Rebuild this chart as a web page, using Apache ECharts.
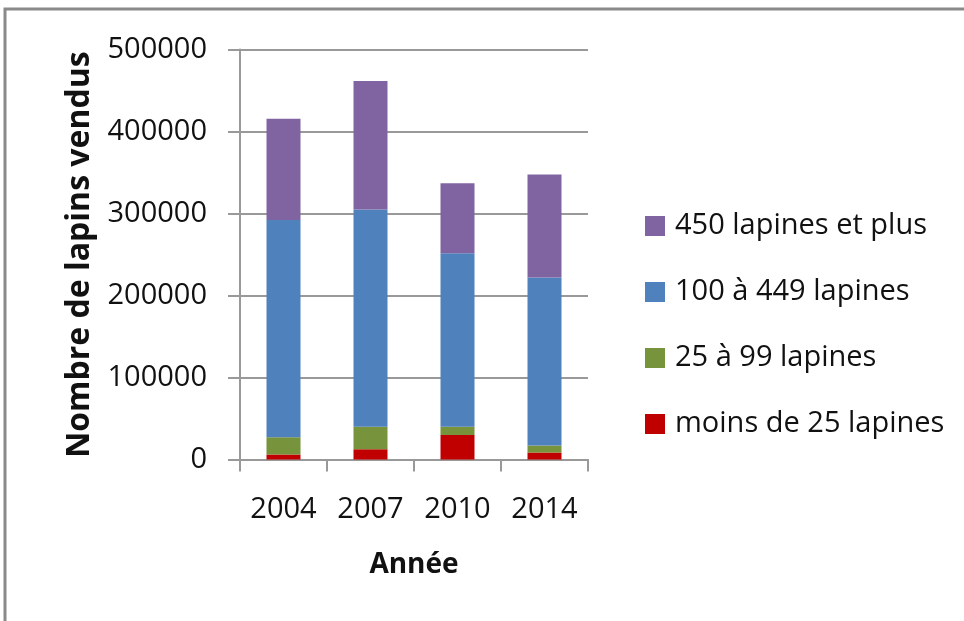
<!DOCTYPE html>
<html>
<head>
<meta charset="utf-8">
<script src="https://cdn.jsdelivr.net/npm/echarts@6/dist/echarts.min.js"></script>
<style>html,body{margin:0;padding:0;background:#fff}#c{width:964px;height:621px}</style>
</head>
<body>
<div id="c"></div>
<script>
const years = ['2004', '2007', '2010', '2014'];
const seriesNames = ['moins de 25 lapines', '25 à 99 lapines', '100 à 449 lapines', '450 lapines et plus'];
const moins25 = [6000, 12500, 30000, 8500];
const de25a99 = [21000, 27500, 10000, 8500];
const de100a449 = [265000, 265000, 211500, 205000];
const plus450 = [123500, 156500, 85500, 125500];
const colors = ['#C00000', '#77933C', '#4F81BD', '#8064A2'];
const yTicks = [0, 100000, 200000, 300000, 400000, 500000];

const font = '"Open Sans", sans-serif';
const values = [moins25, de25a99, de100a449, plus450];
const chart = echarts.init(document.getElementById('c'));
chart.setOption({
  animation: false,
  backgroundColor: '#fff',
  graphic: [{
    type: 'rect', shape: {x: 5, y: 9, width: 1100, height: 800},
    style: {fill: 'none', stroke: '#8a8a8a', lineWidth: 3}, silent: true
  }],
  grid: {left: 240, right: 376, top: 49.5, bottom: 161.5, containLabel: false},
  legend: {
    orient: 'vertical', left: 640, top: 206,
    itemWidth: 20, itemHeight: 20, itemGap: 36,
    icon: 'rect',
    data: [seriesNames[3], seriesNames[2], seriesNames[1], seriesNames[0]],
    textStyle: {fontFamily: font, fontSize: 29, color: '#111', lineHeight: 30, padding: [0, 0, 0, 5]}
  },
  xAxis: {
    type: 'category', data: years,
    name: 'Année', nameLocation: 'middle', nameGap: 92,
    nameTextStyle: {fontFamily: font, fontSize: 28, fontWeight: 'bold', color: '#111'},
    axisLine: {lineStyle: {color: '#999', width: 2}},
    axisTick: {show: true, length: 12, lineStyle: {color: '#999', width: 2}},
    axisLabel: {fontFamily: font, fontSize: 29, color: '#111', margin: 36}
  },
  yAxis: {
    type: 'value', min: yTicks[0], max: yTicks[yTicks.length - 1], interval: yTicks[1] - yTicks[0],
    name: 'Nombre de lapins vendus', nameLocation: 'middle', nameGap: 144, nameRotate: 90,
    nameTextStyle: {fontFamily: font, fontSize: 32, fontWeight: 'bold', color: '#111'},
    axisLine: {show: true, lineStyle: {color: '#999', width: 2}},
    axisTick: {show: true, length: 12, lineStyle: {color: '#999', width: 2}},
    splitLine: {lineStyle: {color: '#999', width: 2}},
    axisLabel: {fontFamily: font, fontSize: 29, color: '#111', margin: 33, formatter: v => String(v)}
  },
  series: seriesNames.map((n, i) => ({
    name: n, type: 'bar', stack: 'total', data: values[i], barWidth: 34,
    itemStyle: {color: colors[i]}
  }))
});
</script>
</body>
</html>
